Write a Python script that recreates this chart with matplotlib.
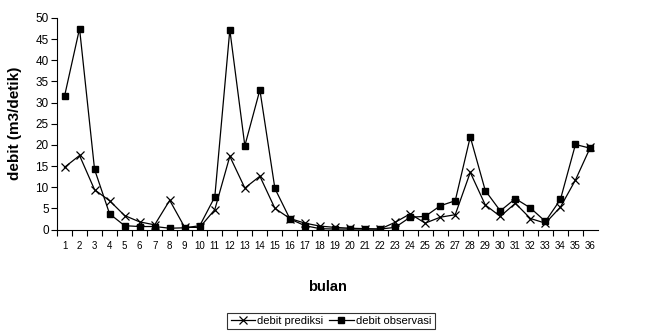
import matplotlib.pyplot as plt

bulan = list(range(1, 37))
debit_prediksi = [14.7, 17.5, 9.4, 6.8, 3.3, 1.8, 1.1, 6.9, 0.5, 0.5,
                  4.7, 17.3, 9.8, 12.6, 5.0, 2.6, 1.5, 0.8, 0.5, 0.3,
                  0.2, 0.1, 1.7, 3.7, 1.5, 2.9, 3.5, 13.5, 5.8, 3.1,
                  6.2, 2.6, 1.5, 5.3, 11.7, 19.5]
debit_observasi = [31.5, 47.5, 14.2, 3.7, 0.9, 0.7, 0.7, 0.3, 0.4, 0.9,
                   7.7, 47.2, 19.8, 33.0, 9.7, 2.5, 0.9, 0.2, 0.1, 0.1,
                   0.1, 0.1, 0.5, 2.9, 3.1, 5.6, 6.8, 21.9, 9.2, 4.4,
                   7.3, 5.1, 1.9, 7.1, 20.1, 19.2]

plt.rcParams['font.family'] = ['Liberation Sans', 'DejaVu Sans']

fig = plt.figure(figsize=(6.54, 3.32), dpi=100)
ax = fig.add_axes([57 / 654, 102.5 / 332, (598 - 57) / 654, (229.5 - 18) / 332])

ax.plot(bulan, debit_prediksi, color='black', lw=0.9, marker='x', ms=6,
        mew=0.9, label='debit prediksi')
ax.plot(bulan, debit_observasi, color='black', lw=0.9, marker='s', ms=5,
        label='debit observasi')

ax.set_xlim(0.5, 36.5)
ax.set_ylim(0, 50)
ax.set_yticks(range(0, 51, 5))
ax.set_xticks(bulan)
ax.set_xticks([b + 0.5 for b in range(0, 36)], minor=True)
ax.tick_params(axis='x', which='major', length=0, labelsize=7, pad=8)
ax.tick_params(axis='x', which='minor', length=4, width=0.8)
ax.tick_params(axis='y', labelsize=8.5, length=4, width=0.8, pad=2)
for s in ['top', 'right']:
    ax.spines[s].set_visible(False)
for s in ['left', 'bottom']:
    ax.spines[s].set_linewidth(0.8)

ax.set_xlabel('bulan', fontsize=10.5, fontweight='bold', labelpad=21)
ax.set_ylabel('debit (m3/detik)', fontsize=11, fontweight='bold', labelpad=10)

leg = fig.legend(loc='center', bbox_to_anchor=(331 / 654, 1 - 321 / 332), ncol=2,
                 fontsize=8, frameon=True, fancybox=False, edgecolor='black',
                 handlelength=2.2, handletextpad=0.2, columnspacing=0.5,
                 borderpad=0.3)
leg.get_frame().set_linewidth(0.8)

fig.savefig('out.png', dpi=100)
